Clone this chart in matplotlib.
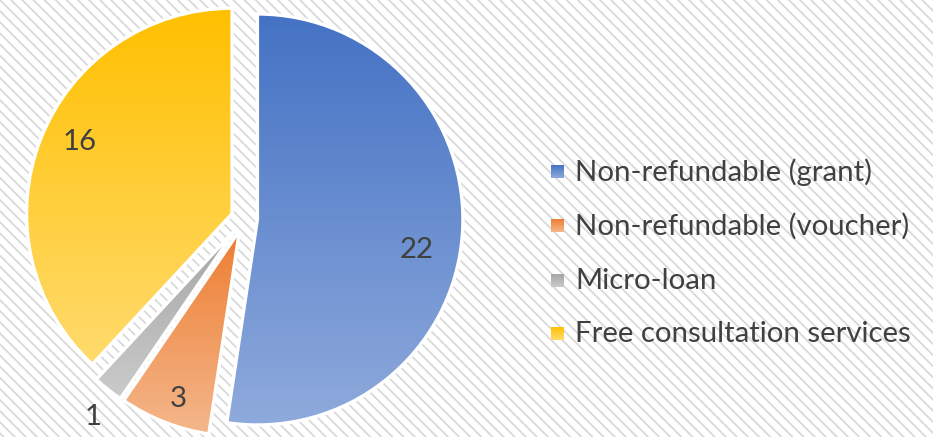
import numpy as np
import matplotlib
matplotlib.use("Agg")
import matplotlib.pyplot as plt
from matplotlib.patches import Rectangle
from matplotlib.colors import LinearSegmentedColormap

categories = ["Non-refundable (grant)", "Non-refundable (voucher)", "Micro-loan",
              "Free consultation services"]
values = [22, 3, 1, 16]
top_colors = ["#4472C4", "#ED7D31", "#A5A5A5", "#FFC000"]
bottom_colors = ["#8FAADC", "#F5B78C", "#CBCBCB", "#FFDB6E"]

W, H = 933, 437
fig = plt.figure(figsize=(W / 100, H / 100), dpi=100)
ax = fig.add_axes([0, 0, 1, 1])

plt.rcParams['hatch.linewidth'] = 1.3
FONT = "Lato"
TXT = "#404040"
FS = 21.2

cx, cy, R = 244.3, 218.5, 205.5
wedges, _ = ax.pie(values, startangle=90, counterclock=False, center=(cx, cy),
                   radius=R, explode=[0.064 * R] * len(values),
                   wedgeprops=dict(edgecolor="white", linewidth=2.4))
ax.set_xlim(0, W)
ax.set_ylim(0, H)
ax.set_aspect("auto")
ax.axis("off")

# background stripes
bg = Rectangle((0, 0), W, H, facecolor="white", edgecolor="#d9d9d9",
               hatch="\\\\\\", linewidth=0, zorder=0)
ax.add_patch(bg)

grad = np.linspace(0, 1, 256).reshape(-1, 1)
for w, ct, cb in zip(wedges, top_colors, bottom_colors):
    cmap = LinearSegmentedColormap.from_list("g", [ct, cb])
    ext = w.get_path().get_extents()
    im = ax.imshow(grad, cmap=cmap, extent=(ext.x0, ext.x1, ext.y0, ext.y1),
                   origin="upper", aspect="auto", zorder=2, interpolation="bilinear")
    im.set_clip_path(w)
    w.set_facecolor("none")
    w.set_zorder(3)
ax.set_xlim(0, W)
ax.set_ylim(0, H)

# data labels
dists = [0.79, 0.87, 1.15, 0.82]
offs = [-6.5, 1.4, 1.2, -3.6]
for w, v, d, o in zip(wedges, values, dists, offs):
    mid = np.deg2rad((w.theta1 + w.theta2) / 2 + o)
    x = w.center[0] + d * w.r * np.cos(mid)
    y = w.center[1] + d * w.r * np.sin(mid)
    ax.text(x, y, str(v), ha="center", va="center", fontsize=FS, family=FONT,
            color=TXT, zorder=5)

# legend
leg_y = [265, 211, 156, 103]
for lab, ct, cb, ly in zip(categories, top_colors, bottom_colors, leg_y):
    cmap = LinearSegmentedColormap.from_list("g", [ct, cb])
    sq = Rectangle((551, ly - 6), 13, 13, facecolor="none", edgecolor="none", zorder=3)
    ax.add_patch(sq)
    im = ax.imshow(grad, cmap=cmap, extent=(551, 564, ly - 6, ly + 7), origin="upper",
                   aspect="auto", zorder=2)
    im.set_clip_path(sq)
    ax.text(575, ly, lab, ha="left", va="center", fontsize=FS, family=FONT, color=TXT,
            zorder=5)
ax.set_xlim(0, W)
ax.set_ylim(0, H)

fig.savefig("out.png", dpi=100)
